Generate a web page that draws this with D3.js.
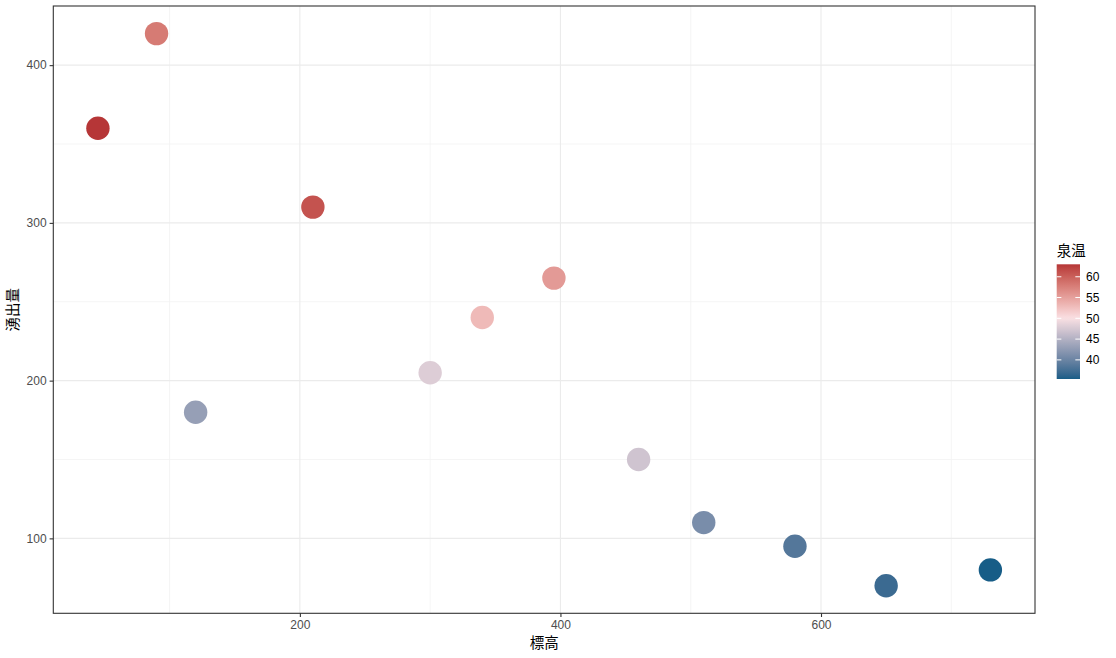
<!DOCTYPE html>
<html>
<head>
<meta charset="utf-8">
<script src="https://cdn.jsdelivr.net/npm/d3@7"></script>
<style>
  html, body { margin: 0; padding: 0; background: #fff; }
  svg { display: block; }
  text { font-family: "Liberation Sans", Arial, "Noto Sans CJK JP", sans-serif; }
</style>
</head>
<body>
<svg id="chart" width="1116" height="658"></svg>
<script>
// ---- data ----
const elevation = [45, 90, 120, 210, 300, 340, 395, 460, 510, 580, 650, 730];
const discharge = [360, 420, 180, 310, 205, 240, 265, 150, 110, 95, 70, 80];
const temperature = [63, 58, 43, 61, 48, 53, 55.5, 47, 41, 38.5, 37, 35.4];
const xTicks = [200, 400, 600];
const xMinor = [100, 300, 500, 700];
const yTicks = [100, 200, 300, 400];
const yMinor = [150, 250, 350];
const legendTicks = [40, 45, 50, 55, 60];
const xTitle = "標高";
const yTitle = "湧出量";
const legendTitle = "泉温";

// ---- layout ----
const W = 1116, H = 658;
const panel = { left: 53.3, right: 1035, top: 6, bottom: 613.3 };
const svg = d3.select("#chart");

function expand(ext, f) { const r = ext[1] - ext[0]; return [ext[0] - r * f, ext[1] + r * f]; }
const x = d3.scaleLinear().domain(expand(d3.extent(elevation), 0.05)).range([panel.left, panel.right]);
const y = d3.scaleLinear().domain(expand(d3.extent(discharge), 0.05)).range([panel.bottom, panel.top]);

// gradient2-like colour scale, midpoint 50, Lab interpolation
const tMin = d3.min(temperature), tMax = d3.max(temperature), mid = 50;
const lowC = "#175d87", midC = "#fae0e3", highC = "#ab1525";
const maxDist = Math.max(mid - tMin, tMax - mid);
const colorLow = d3.interpolateLab(lowC, midC);
const colorHigh = d3.interpolateLab(midC, highC);
function color(t) {
  const r = 0.5 + (t - mid) / (2 * maxDist);
  return r < 0.5 ? colorLow(r / 0.5) : colorHigh((r - 0.5) / 0.5);
}

// panel background
svg.append("rect").attr("x", panel.left).attr("y", panel.top)
  .attr("width", panel.right - panel.left).attr("height", panel.bottom - panel.top)
  .attr("fill", "#fff");

const grid = svg.append("g");
grid.selectAll(".xm").data(xMinor).join("line")
  .attr("x1", d => x(d)).attr("x2", d => x(d)).attr("y1", panel.top).attr("y2", panel.bottom)
  .attr("stroke", "#f2f2f2").attr("stroke-width", 0.8);
grid.selectAll(".ym").data(yMinor).join("line")
  .attr("y1", d => y(d)).attr("y2", d => y(d)).attr("x1", panel.left).attr("x2", panel.right)
  .attr("stroke", "#f2f2f2").attr("stroke-width", 0.8);
grid.selectAll(".xM").data(xTicks).join("line")
  .attr("x1", d => x(d)).attr("x2", d => x(d)).attr("y1", panel.top).attr("y2", panel.bottom)
  .attr("stroke", "#ebebeb").attr("stroke-width", 1.1);
grid.selectAll(".yM").data(yTicks).join("line")
  .attr("y1", d => y(d)).attr("y2", d => y(d)).attr("x1", panel.left).attr("x2", panel.right)
  .attr("stroke", "#ebebeb").attr("stroke-width", 1.1);

// points
const pts = elevation.map((e, i) => ({ e, q: discharge[i], t: temperature[i] }));
svg.append("g").selectAll("circle").data(pts).join("circle")
  .attr("cx", d => x(d.e)).attr("cy", d => y(d.q)).attr("r", 11.7)
  .attr("fill", d => color(d.t));

// panel border
svg.append("rect").attr("x", panel.left).attr("y", panel.top)
  .attr("width", panel.right - panel.left).attr("height", panel.bottom - panel.top)
  .attr("fill", "none").attr("stroke", "#333333").attr("stroke-width", 1.1);

// axes
const xAxis = d3.axisBottom(x).tickValues(xTicks).tickSize(3.7).tickPadding(3);
const gx = svg.append("g").attr("transform", `translate(0,${panel.bottom})`).call(xAxis);
const yAxis = d3.axisLeft(y).tickValues(yTicks).tickSize(3.7).tickPadding(3);
const gy = svg.append("g").attr("transform", `translate(${panel.left},0)`).call(yAxis);
[gx, gy].forEach(g => {
  g.select(".domain").remove();
  g.selectAll(".tick line").attr("stroke", "#333333").attr("stroke-width", 1.1);
  g.selectAll(".tick text").attr("fill", "#4d4d4d").style("font-size", "12px")
    .style("font-family", "'Liberation Sans', Arial, sans-serif");
});

// axis titles
svg.append("text").attr("x", (panel.left + panel.right) / 2).attr("y", 648)
  .attr("text-anchor", "middle").style("font-size", "14.5px").attr("fill", "#000")
  .style("font-family", "'Noto Sans CJK JP', sans-serif").text(xTitle);
svg.append("text").attr("transform", `translate(18,${(panel.top + panel.bottom) / 2}) rotate(-90)`)
  .attr("text-anchor", "middle").style("font-size", "14.5px").attr("fill", "#000")
  .style("font-family", "'Noto Sans CJK JP', sans-serif").text(yTitle);

// legend
const lg = { x: 1056.7, top: 264.3, w: 23.3, h: 114.7 };
const ly = d3.scaleLinear().domain([tMin, tMax]).range([lg.top + lg.h, lg.top]);
const defs = svg.append("defs");
const grad = defs.append("linearGradient").attr("id", "lg").attr("x1", 0).attr("y1", 1).attr("x2", 0).attr("y2", 0);
d3.range(0, 1.0001, 0.02).forEach(f => {
  grad.append("stop").attr("offset", f).attr("stop-color", color(tMin + f * (tMax - tMin)));
});
svg.append("rect").attr("x", lg.x).attr("y", lg.top).attr("width", lg.w).attr("height", lg.h)
  .attr("fill", "url(#lg)");
const lt = svg.append("g");
legendTicks.forEach(t => {
  const yy = ly(t);
  lt.append("line").attr("x1", lg.x).attr("x2", lg.x + lg.w / 5).attr("y1", yy).attr("y2", yy)
    .attr("stroke", "#fff").attr("stroke-width", 1);
  lt.append("line").attr("x1", lg.x + lg.w * 4 / 5).attr("x2", lg.x + lg.w).attr("y1", yy).attr("y2", yy)
    .attr("stroke", "#fff").attr("stroke-width", 1);
  lt.append("text").attr("x", lg.x + lg.w + 6).attr("y", yy).attr("dy", "0.36em")
    .style("font-size", "12px").attr("fill", "#000").text(t);
});
svg.append("text").attr("x", lg.x).attr("y", 256).style("font-size", "14.5px").attr("fill", "#000")
  .style("font-family", "'Noto Sans CJK JP', sans-serif").text(legendTitle);
</script>
</body>
</html>
